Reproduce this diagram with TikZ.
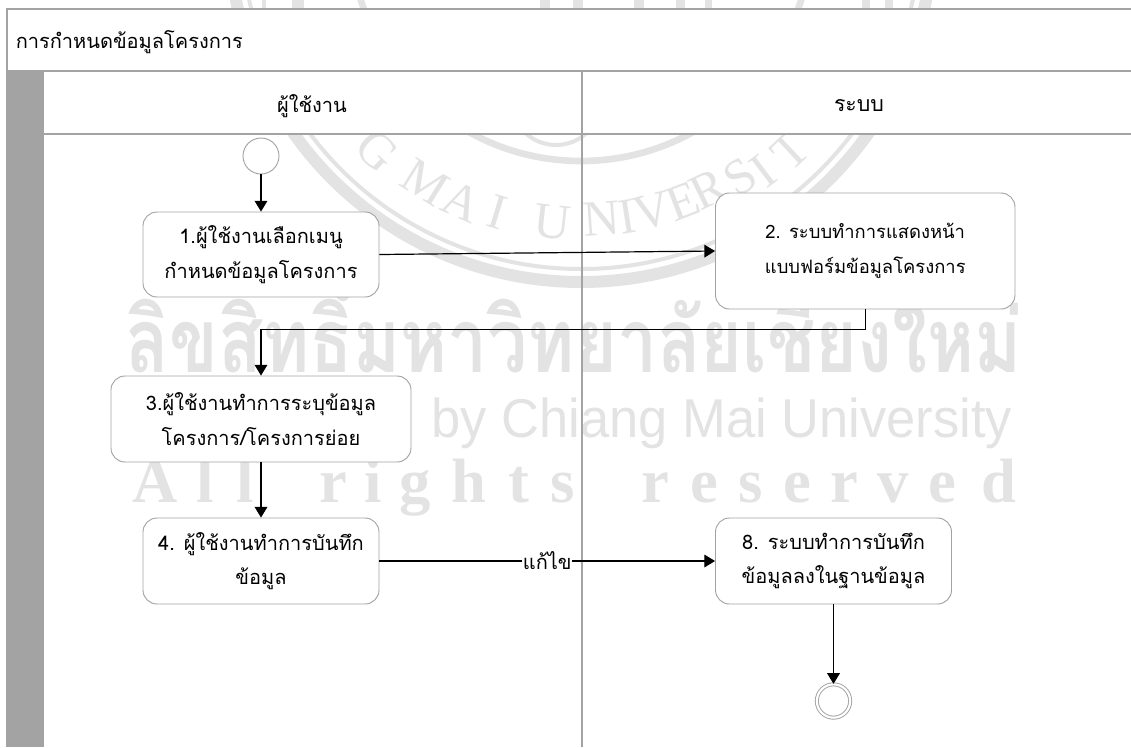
\documentclass[tikz,border=0pt]{standalone}
\usepackage{fontspec}
\setmainfont[Script=Thai]{Loma}
\newfontfamily\wmserif{Liberation Serif}
\newfontfamily\wmsans{Liberation Sans}
\usetikzlibrary{arrows.meta,calc}
\definecolor{lanegray}{HTML}{A3A3A3}
\definecolor{wmgray}{HTML}{E3E3E3}
\tikzset{
  box/.style={draw=lanegray,fill=white,rounded corners=10.5pt,line width=0.7pt,align=center,font=\fontsize{15}{26}\selectfont,inner sep=0pt},
  flow/.style={draw=black,line width=0.9pt,-{Triangle[length=8pt,width=9.5pt]}},
  lanetext/.style={font=\fontsize{15}{18}\selectfont,inner sep=0pt},
  laneline/.style={draw=lanegray,line width=1.1pt},
  ring/.style={draw=wmgray},
  wmletter/.style={text=wmgray,inner sep=0pt,font=\wmserif\fontsize{38}{38}\selectfont},
  wmres/.style={text=wmgray,anchor=base,inner sep=0pt,font=\wmserif\bfseries\fontsize{47}{47}\selectfont},
}
\begin{document}
\begin{tikzpicture}[x=0.75pt,y=-0.75pt]
\useasboundingbox (0,0) rectangle (1131,747);
\begin{scope}
\clip (0,0) rectangle (1131,747);
% watermark: seal
\coordinate (sc) at (581,-70);
\draw[ring,line width=9pt] (sc) circle[radius=352];
\draw[ring,line width=3pt] (sc) circle[radius=339];
\draw[ring,line width=5pt] (sc) circle[radius=231];
\draw[ring,line width=3pt] (556,100) circle[radius=45];
\foreach \ch/\px/\py/\rt in {G/377/151/-43,M/425/182/-32,A/462/202/-24,I/497/212/-17,U/552/222/-6,N/602/219/4,I/627/217/9,V/652/211/14,E/683/201/21,R/708/189/26,S/740/177/33,I/763/171/37,T/790/151/43}
  \node[wmletter,rotate=\rt] at (\px,\py) {\ch};
\foreach \px/\wdt in {262/4,292/12,540/10,573/10,634/10,676/9,705/7,862/8,885/8}
  \fill[wmgray] (\px,0) rectangle ++(\wdt,8);
% watermark: text
\node[anchor=base,inner sep=0pt,text=wmgray] (wmth) at (574,372)
  {\scalebox{1}[1.25]{\resizebox{672pt}{!}{\fontsize{75}{75}\selectfont\bfseries ลิขสิทธิ์มหาวิทยาลัยเชียงใหม่}}};
\node[anchor=base,inner sep=0pt,text=wmgray] (wmby) at (722,437) {\scalebox{0.96}[1]{\wmsans\fontsize{41}{41}\selectfont by Chiang Mai University}};
\foreach \ch/\px in {A/155,l/205,l/245,r/333,i/373,g/415,h/469,t/519,s/563,r/655,e/704,s/751,e/797,r/844,v/893,e/942,d/999}
  \node[wmres] at (\px,502) {\ch};
\end{scope}
% swimlane
\fill[white] (7,9) rectangle (1131,134);
\fill[lanegray] (7,71) rectangle (43,747);
\draw[laneline] (1131,9) -- (7,9) -- (7,747);
\draw[laneline] (7,71) -- (1131,71);
\draw[laneline] (43,71) -- (43,747);
\draw[laneline] (43,134) -- (1131,134);
\draw[laneline] (582,71) -- (582,747);
\node[lanetext,anchor=west] (title) at (15.5,42) {การกำหนดข้อมูลโครงการ};
\node[lanetext] (hu) at (312,106) {ผู้ใช้งาน};
\node[lanetext,font=\fontsize{16}{18}\selectfont] (hs) at (859,106) {ระบบ};
% nodes
\node[circle,draw=lanegray,fill=white,line width=0.7pt,minimum size=27pt,inner sep=0pt] (start) at (261,156) {};
\node[box,minimum width=177pt,minimum height=63.75pt] (b1) at (261,254.5) {1.ผู้ใช้งานเลือกเมนู\\กำหนดข้อมูลโครงการ};
\node[box,minimum width=224.6pt,minimum height=87pt,font=\fontsize{13.8}{26}\selectfont] (b2) at (865.25,251) {2. ระบบทำการแสดงหน้า\\แบบฟอร์มข้อมูลโครงการ};
\node[box,minimum width=225pt,minimum height=64.5pt] (b3) at (261,419) {3.ผู้ใช้งานทำการระบุข้อมูล\\โครงการ/โครงการย่อย};
\node[box,minimum width=177pt,minimum height=64.5pt] (b4) at (261,561) {4. ผู้ใช้งานทำการบันทึก\\ข้อมูล};
\node[box,minimum width=177pt,minimum height=64.5pt] (b8) at (833.5,561) {8. ระบบทำการบันทึก\\ข้อมูลลงในฐานข้อมูล};
\node[circle,draw=lanegray,double=white,double distance=1.6pt,fill=white,line width=0.7pt,minimum size=25pt,inner sep=0pt] (end) at (833.5,701) {};
% connectors
\draw[flow] (start) -- (b1);
\draw[flow] (b1.east) -- (b2.west);
\draw[flow] (b2.south) -- ++(0,20) -| (b3.north);
\draw[flow] (b3) -- (b4);
\draw[flow] (b4) -- node[fill=white,inner sep=0.5pt,font=\fontsize{15}{18}\selectfont] (edit) {แก้ไข} (b8);
\draw[flow] (b8) -- (end);
\end{tikzpicture}
\end{document}
